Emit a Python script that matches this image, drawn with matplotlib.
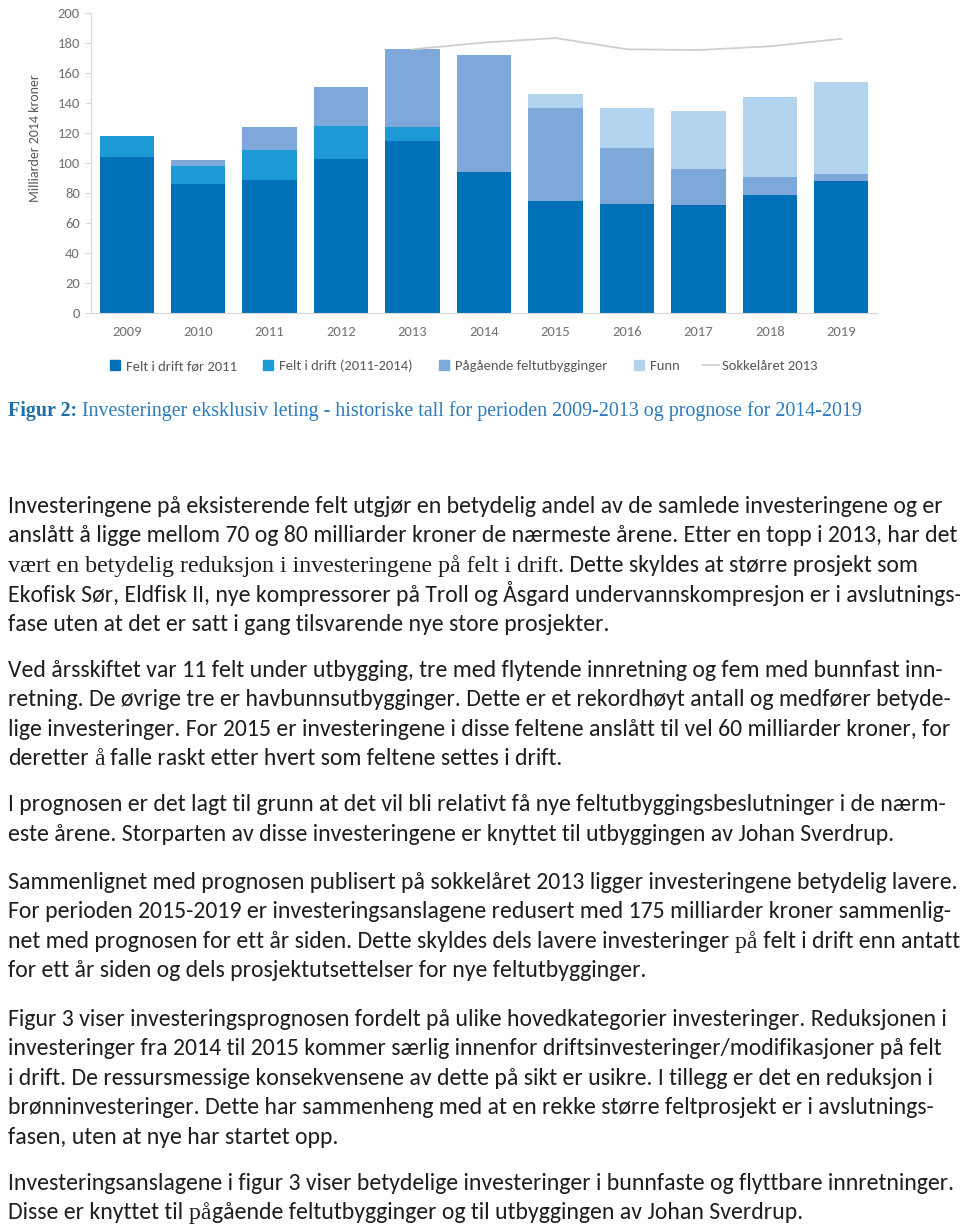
import numpy as np
import matplotlib
matplotlib.use("Agg")
import matplotlib.pyplot as plt
from matplotlib.lines import Line2D

# data (milliarder 2014 kroner)
years = ['2009', '2010', '2011', '2012', '2013', '2014', '2015', '2016', '2017', '2018', '2019']
felt_for_2011 = [104, 86, 89, 103, 115, 94, 75, 73, 72, 79, 88]
felt_2011_2014 = [14, 12, 20, 22, 9, 0, 0, 0, 0, 0, 0]
pagaende = [0, 4, 15, 26, 52, 78, 62, 37, 24, 12, 5]
funn = [0, 0, 0, 0, 0, 0, 9, 27, 39, 53, 61]
sokkel_years = ['2013', '2014', '2015', '2016', '2017', '2018', '2019']
sokkel_2013 = [176, 180.5, 183.5, 176, 175.5, 178, 183]

series_names = ['Felt i drift før 2011', 'Felt i drift (2011-2014)', 'Pågående feltutbygginger', 'Funn']
line_name = 'Sokkelåret 2013'
y_label = 'Milliarder 2014 kroner'

caption_bold = 'Figur 2:'
caption_rest = ' Investeringer eksklusiv leting - historiske tall for perioden 2009-2013 og prognose for 2014-2019'

SANS = 'Carlito'
SERIF = 'Liberation Serif'

# each line: list of (text, family)
paragraphs = [
    [
        [("Investeringene på eksisterende felt utgjør en betydelig andel av de samlede investeringene og er", SANS)],
        [("anslått å ligge mellom 70 og 80 milliarder kroner de nærmeste årene. Etter en topp i 2013, har det", SANS)],
        [("vært en betydelig reduksjon i investeringene på felt i drift.", SERIF), (" Dette skyldes at større prosjekt som", SANS)],
        [("Ekofisk Sør, Eldfisk II, nye kompressorer på Troll og Åsgard undervannskompresjon er i avslutnings-", SANS)],
        [("fase uten at det er satt i gang tilsvarende nye store prosjekter.", SANS)],
    ],
    [
        [("Ved årsskiftet var 11 felt under utbygging, tre med flytende innretning og fem med bunnfast inn-", SANS)],
        [("retning. De øvrige tre er havbunnsutbygginger. Dette er et rekordhøyt antall og medfører betyde-", SANS)],
        [("lige investeringer. For 2015 er investeringene i disse feltene anslått til vel 60 milliarder kroner, for", SANS)],
        [("deretter", SANS), (" å", SERIF), (" falle raskt etter hvert som feltene settes i drift.", SANS)],
    ],
    [
        [("I prognosen er det lagt til grunn at det vil bli relativt få nye feltutbyggingsbeslutninger i de nærm-", SANS)],
        [("este årene. Storparten av disse investeringene er knyttet til utbyggingen av Johan Sverdrup.", SANS)],
    ],
    [
        [("Sammenlignet med prognosen publisert på sokkelåret 2013 ligger investeringene betydelig lavere.", SANS)],
        [("For perioden 2015-2019 er investeringsanslagene redusert med 175 milliarder kroner sammenlig-", SANS)],
        [("net med prognosen for ett år siden. Dette skyldes dels lavere investeringer", SANS), (" på", SERIF),
         (" felt i drift enn antatt", SANS)],
        [("for ett år siden og dels prosjektutsettelser for nye feltutbygginger.", SANS)],
    ],
    [
        [("Figur 3 viser investeringsprognosen fordelt på ulike hovedkategorier investeringer. Reduksjonen i", SANS)],
        [("investeringer fra 2014 til 2015 kommer særlig innenfor driftsinvesteringer/modifikasjoner på felt", SANS)],
        [("i drift. De ressursmessige konsekvensene av dette på sikt er usikre. I tillegg er det en reduksjon i", SANS)],
        [("brønninvesteringer. Dette har sammenheng med at en rekke større feltprosjekt er i avslutnings-", SANS)],
        [("fasen, uten at nye har startet opp.", SANS)],
    ],
    [
        [("Investeringsanslagene i figur 3 viser betydelige investeringer i bunnfaste og flyttbare innretninger.", SANS)],
        [("Disse er knyttet til", SANS), (" på", SERIF), ("gående feltutbygginger og til utbyggingen av Johan Sverdrup.", SANS)],
    ],
]
line_centers = [
    [508, 537, 567, 597, 626],
    [672, 701, 731, 760],
    [806, 836],
    [884, 913, 943, 972],
    [1021, 1050, 1080, 1109, 1139],
    [1185, 1214],
]

W, H = 960, 1228
fig = plt.figure(figsize=(W / 100, H / 100), dpi=100)
fig.patch.set_facecolor('white')
renderer = fig.canvas.get_renderer()

colors = ['#0070b8', '#1d9ad6', '#7ea7da', '#b3d4ee']
grey_txt = '#737373'
axis_grey = '#d9d9d9'

# ---- chart ----
ax = fig.add_axes([91 / W, 1 - 313.3 / H, 786 / W, 300 / H])
x = np.arange(len(years))
bottom = np.zeros(len(years))
handles = []
for vals, c in zip([felt_for_2011, felt_2011_2014, pagaende, funn], colors):
    ax.bar(x, vals, width=0.76, bottom=bottom, color=c, zorder=2)
    bottom = bottom + np.array(vals)
    handles.append(Line2D([], [], marker='s', linestyle='none', markersize=7,
                          markerfacecolor=c, markeredgecolor=c))
sx = [years.index(y) for y in sokkel_years]
ax.plot(sx, sokkel_2013, color='#cfcfcf', lw=1.3, zorder=3)
handles.append(Line2D([], [], color='#cfcfcf', lw=1.3))

ax.set_xlim(-0.5, len(years) - 0.5)
ax.set_ylim(0, 200)
ax.set_yticks(np.arange(0, 201, 20))
ax.set_xticks(x)
ax.set_xticklabels(years)
for s in ['top', 'right']:
    ax.spines[s].set_visible(False)
for s in ['left', 'bottom']:
    ax.spines[s].set_color(axis_grey)
    ax.spines[s].set_linewidth(0.8)
ax.tick_params(axis='y', length=4, width=0.8, color=axis_grey, pad=4,
               labelsize=10.5, labelcolor=grey_txt)
ax.tick_params(axis='x', length=0, pad=9, labelsize=10.5, labelcolor=grey_txt)
for lab in ax.get_xticklabels() + ax.get_yticklabels():
    lab.set_family(SANS)

fig.text(35 / W, 1 - 138 / H, y_label, rotation=90, ha='center', va='center',
         family=SANS, size=10, color='#595959')

leg = fig.legend(handles, series_names + [line_name], ncol=5, loc='center',
                 bbox_to_anchor=(462 / W, 1 - 366 / H), frameon=False,
                 handlelength=1.1, handletextpad=0.2, columnspacing=1.6,
                 prop={'family': SANS, 'size': 10.5})
for t in leg.get_texts():
    t.set_color('#595959')


def fit_size(text, family, target, weight='normal'):
    t = fig.text(0, 0, text, family=family, size=20, weight=weight)
    w = t.get_window_extent(renderer).width
    t.remove()
    return 20 * target / w


# ---- caption ----
cap_size = fit_size(caption_bold + caption_rest, SERIF, 849)
t = fig.text(8 / W, 1 - 416 / H, caption_bold, family=SERIF, weight='bold',
             size=cap_size, color='#1f6ea8', va='baseline')
xe = t.get_window_extent(renderer).x1
fig.text(xe / W, 1 - 416 / H, caption_rest, family=SERIF, size=cap_size,
         color='#2f7bbd', va='baseline')

# ---- body text ----
sizes = {SANS: fit_size(paragraphs[0][0][0][0], SANS, 934),
         SERIF: fit_size(paragraphs[0][2][0][0], SERIF, 557)}
body_color = '#1e1e1e'
for para, centers in zip(paragraphs, line_centers):
    for segs, yc in zip(para, centers):
        xp = 8
        for txt, fam in segs:
            t = fig.text(xp / W, 1 - (yc + 5) / H, txt, family=fam, size=sizes[fam],
                         color=body_color, va='baseline', ha='left')
            xp = t.get_window_extent(renderer).x1

fig.savefig('out.png', dpi=100)
